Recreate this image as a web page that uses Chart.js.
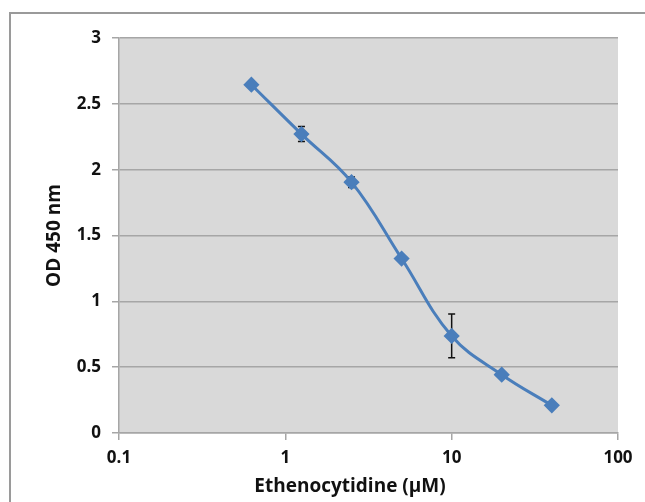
<!DOCTYPE html>
<html>
<head>
<meta charset="utf-8">
<script src="https://cdn.jsdelivr.net/npm/chart.js@4.4.1/dist/chart.umd.min.js"></script>
<style>
  html, body { margin:0; padding:0; background:#fff; }
  #wrap { position:relative; width:645px; height:502px; overflow:hidden; }
  #frame { position:absolute; left:9px; top:12px; width:700px; height:600px;
           border-top:2px solid #9a9a9a; border-left:2px solid #9a9a9a; }
  #chart { position:absolute; left:0; top:0; }
</style>
</head>
<body>
<div id="wrap">
  <div id="frame"></div>
  <canvas id="chart" width="645" height="502"></canvas>
</div>
<script>
const concentrations = [0.625, 1.25, 2.5, 5, 10, 20, 40];
const odValues = [2.645, 2.27, 1.905, 1.325, 0.737, 0.443, 0.21];
const odErrors = [0, 0.057, 0.04, 0.02, 0.166, 0, 0];
const xTicks = [0.1, 1, 10, 100];
const yTicks = [0, 0.5, 1, 1.5, 2, 2.5, 3];
const xTitle = "Ethenocytidine (μM)";
const yTitle = "OD 450 nm";

const blue = "#4a7ebb";
const gridGray = "#a6a6a6";
const font = "'Open Sans'";

const plotBg = {
  id: "plotBg",
  beforeDraw(chart){
    const a = chart.chartArea;
    const ctx = chart.ctx;
    ctx.save();
    ctx.fillStyle = "#d9d9d9";
    ctx.fillRect(a.left, a.top, a.right - a.left, a.bottom - a.top);
    ctx.restore();
  }
};

const errorBars = {
  id: "errorBars",
  beforeDatasetsDraw(chart){
    const xs = chart.scales.x, ys = chart.scales.y;
    const ctx = chart.ctx;
    ctx.save();
    ctx.strokeStyle = "#111";
    ctx.lineWidth = 1.5;
    odErrors.forEach((e, i) => {
      if(!e) return;
      const x = xs.getPixelForValue(concentrations[i]);
      const y1 = ys.getPixelForValue(odValues[i] + e);
      const y2 = ys.getPixelForValue(odValues[i] - e);
      ctx.beginPath();
      ctx.moveTo(x, y1); ctx.lineTo(x, y2);
      ctx.moveTo(x - 3.5, y1); ctx.lineTo(x + 3.5, y1);
      ctx.moveTo(x - 3.5, y2); ctx.lineTo(x + 3.5, y2);
      ctx.stroke();
    });
    ctx.restore();
  }
};

const xTitleText = {
  id: "xTitleText",
  afterDraw(chart){
    const ctx = chart.ctx;
    ctx.save();
    ctx.font = "bold 19px " + font;
    ctx.fillStyle = "#111";
    ctx.textAlign = "center";
    ctx.textBaseline = "middle";
    ctx.fillText(xTitle, 350, 487);
    ctx.restore();
  }
};

new Chart(document.getElementById("chart"), {
  type: "scatter",
  data: {
    datasets: [{
      data: concentrations.map((c, i) => ({x: c, y: odValues[i]})),
      showLine: true,
      tension: 0.4,
      borderColor: blue,
      borderWidth: 3,
      backgroundColor: blue,
      pointStyle: "rectRot",
      pointRadius: 6,
      pointBorderColor: blue,
      pointBackgroundColor: blue,
      clip: false
    }]
  },
  options: {
    responsive: false,
    animation: false,
    layout: { padding: { top: 38, right: 27, left: 0, bottom: 0 } },
    plugins: { legend: { display: false }, tooltip: { enabled: false } },
    scales: {
      x: {
        type: "logarithmic",
        min: 0.1,
        max: 100,
        afterBuildTicks(scale){ scale.ticks = xTicks.map(v => ({value: v})); },
        afterFit(scale){ scale.height = 69; },
        ticks: {
          callback: v => String(v),
          color: "#111",
          font: { family: font, size: 17, weight: "bold" },
          padding: 8,
          maxRotation: 0
        },
        grid: { drawOnChartArea: false, color: gridGray, lineWidth: 1.5, tickLength: 7 },
        border: { color: gridGray, width: 1.5 }
      },
      y: {
        min: 0,
        max: 3,
        afterBuildTicks(scale){ scale.ticks = yTicks.map(v => ({value: v})); },
        afterFit(scale){ scale.width = 119; },
        ticks: {
          callback: v => String(v),
          color: "#111",
          font: { family: font, size: 17, weight: "bold" },
          padding: 11
        },
        grid: { color: gridGray, lineWidth: 1.5, tickLength: 7 },
        border: { color: gridGray, width: 1.5 },
        title: {
          display: true,
          text: yTitle,
          color: "#111",
          font: { family: font, size: 19, weight: "bold" },
          padding: { top: 43, bottom: 0 }
        }
      }
    }
  },
  plugins: [plotBg, errorBars, xTitleText]
});
</script>
</body>
</html>
